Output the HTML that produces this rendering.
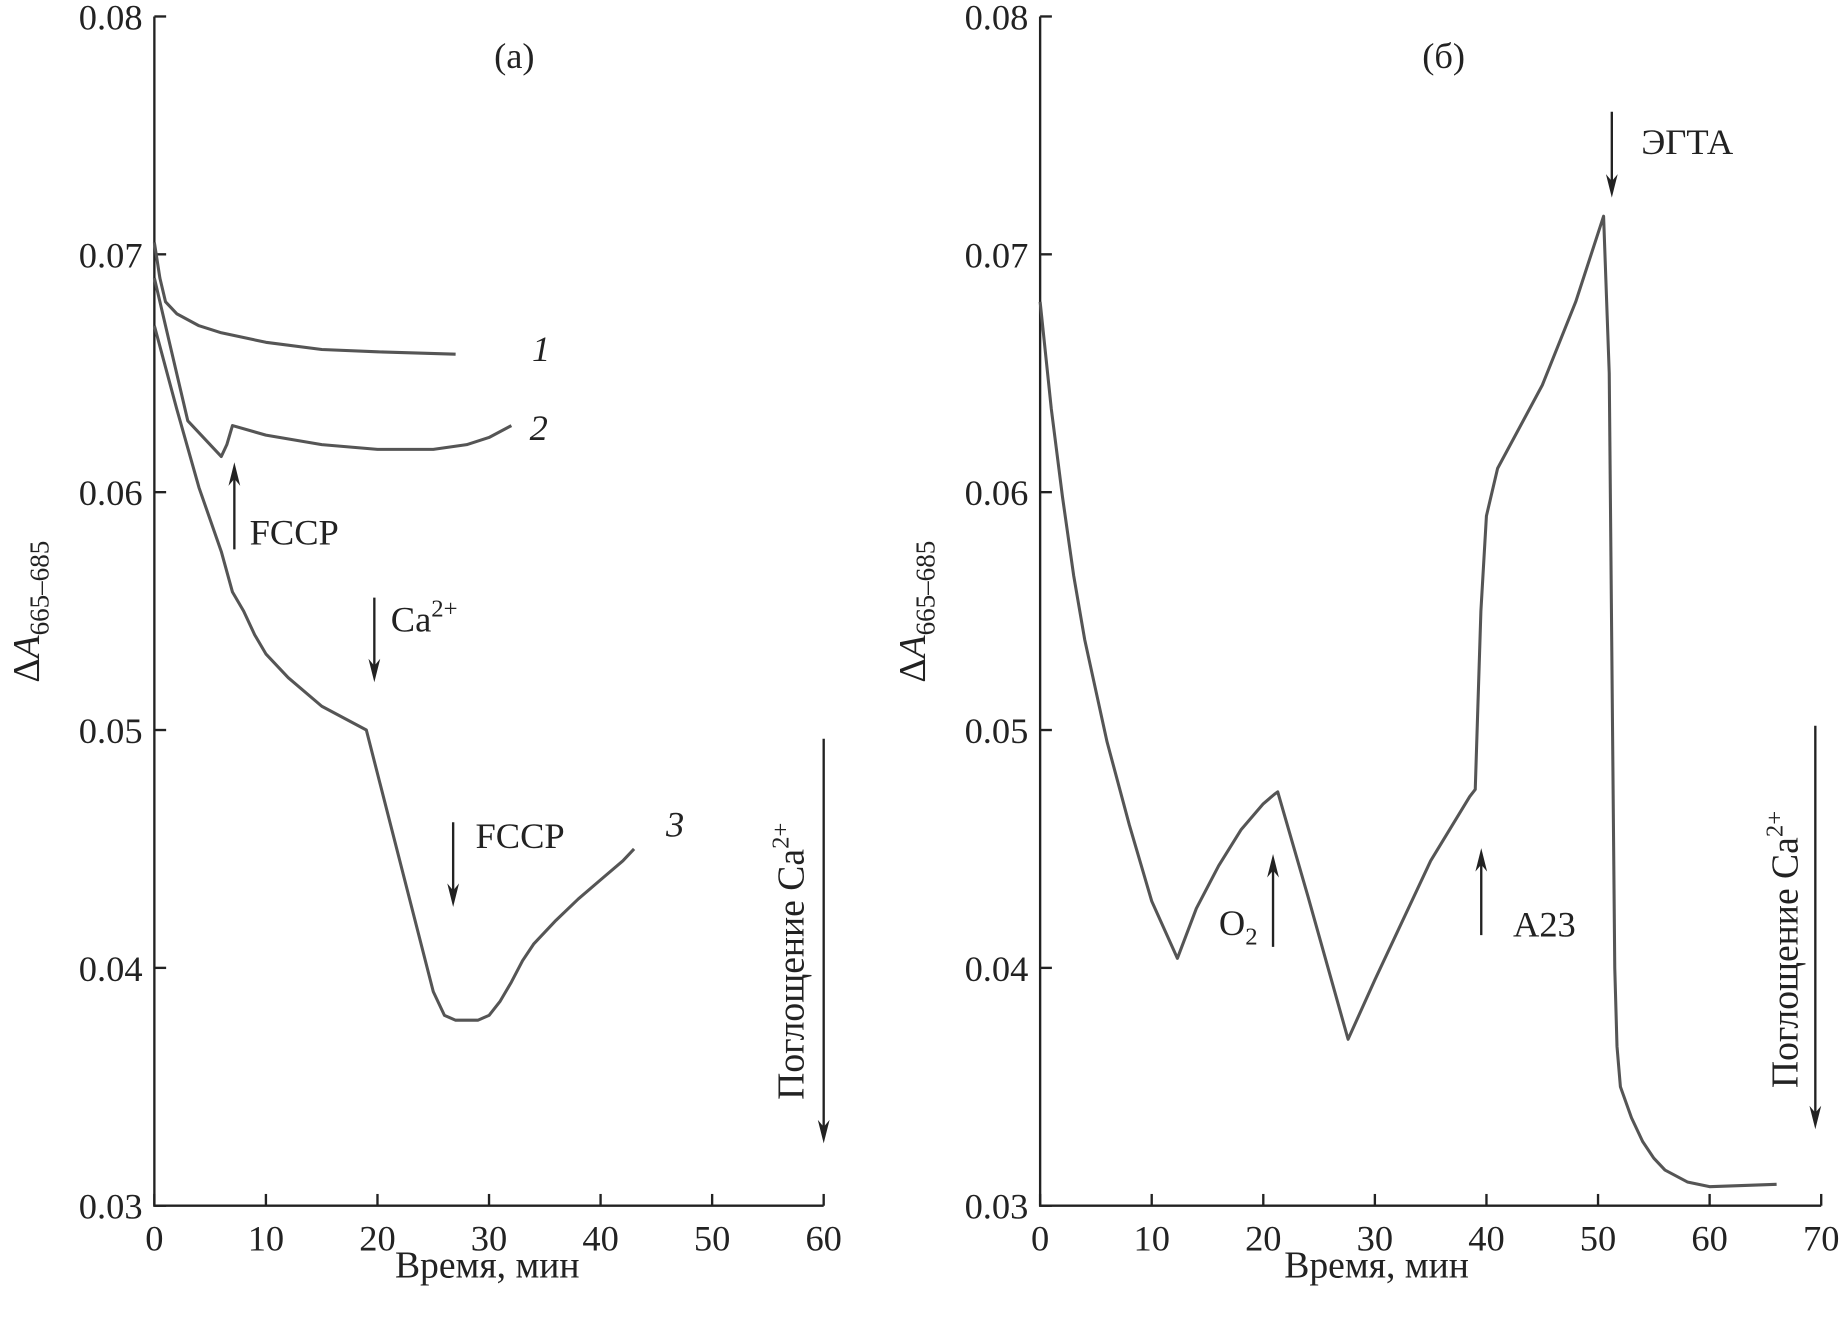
<!DOCTYPE html>
<html><head><meta charset="utf-8"><style>
html,body{margin:0;padding:0;background:#fff}
svg{display:block}
text{font-family:"Liberation Serif",serif;fill:#222}
</style></head><body>
<svg width="1845" height="1321" viewBox="0 0 1568 1123" id="chart">
<g id="pa"></g>
<g id="pb"></g>
</svg>
<script>
const curve1T=[0,0.5,1,2,4,6,10,15,20,27];
const curve1V=[0.0705,0.069,0.068,0.0675,0.067,0.0667,0.0663,0.066,0.0659,0.0658];
const curve2T=[0,3,6,6.5,7,10,15,20,25,28,30,32];
const curve2V=[0.069,0.063,0.0615,0.062,0.0628,0.0624,0.062,0.0618,0.0618,0.062,0.0623,0.0628];
const curve3T=[0,2,4,6,7,8,9,10,12,15,19,25,26,27,29,30,31,32,33,34,36,38,40,42,43];
const curve3V=[0.067,0.0635,0.0602,0.0575,0.0558,0.055,0.054,0.0532,0.0522,0.051,0.05,0.039,0.038,0.0378,0.0378,0.038,0.0386,0.0394,0.0403,0.041,0.042,0.0429,0.0437,0.0445,0.045];
const curveBT=[0,1,2,3,4,6,8,10,12.3,14,16,18,20,21,21.3,24,27.6,30,35,38.5,39,39.5,40,41,45,48,50.5,51,51.5,51.7,52,53,54,55,56,58,60,66];
const curveBV=[0.068,0.0635,0.0598,0.0565,0.0538,0.0495,0.046,0.0428,0.0404,0.0425,0.0443,0.0458,0.0469,0.0473,0.0474,0.043,0.037,0.0395,0.0445,0.0472,0.0475,0.055,0.059,0.061,0.0645,0.068,0.0716,0.065,0.04,0.0367,0.035,0.0337,0.0327,0.032,0.0315,0.031,0.0308,0.0309];
const yTicks=[0.03,0.04,0.05,0.06,0.07,0.08];
const xTicksA=[0,10,20,30,40,50,60];
const xTicksB=[0,10,20,30,40,50,60,70];
const NS="http://www.w3.org/2000/svg";
const Y0=1025,Y1=14;
function y(v){return Y0+(v-0.03)/(0.05)*(Y1-Y0);}
function mk(tag,attrs,parent){const e=document.createElementNS(NS,tag);for(const k in attrs)e.setAttribute(k,attrs[k]);parent.appendChild(e);return e;}
function panel(g,x0,xmax,xTicks,series,label,labX){
  const W=(xmax===60?569:664);
  const x=t=>x0+t/xmax*W;
  const ax=mk('path',{d:`M${x0},${Y1} V${Y0} H${x0+W}`,stroke:'#222','stroke-width':2,fill:'none'},g);
  
  
  yTicks.forEach(v=>{
    mk('line',{x1:x0,x2:x0+10,y1:y(v),y2:y(v),stroke:'#222','stroke-width':2},g);
    const t=mk('text',{x:x0-10,y:y(v)+11,'text-anchor':'end','font-size':31},g);t.textContent=v.toFixed(2);
    
    
  });
  xTicks.forEach(v=>{
    mk('line',{x1:x(v),x2:x(v),y1:Y0,y2:Y0-10,stroke:'#222','stroke-width':2},g);
    const t=mk('text',{x:x(v),y:Y0+38,'text-anchor':'middle','font-size':31},g);t.textContent=v;
    
    
  });
  const xt=mk('text',{x:x0+(xmax===60?283:286),y:1086,'text-anchor':'middle','font-size':32},g);xt.textContent='Время, мин';
  
  
  const yt=mk('text',{transform:`translate(${x0-98},520) rotate(-90)`,'text-anchor':'middle','font-size':32},g);
  yt.innerHTML='Δ<tspan font-style="italic">A</tspan><tspan font-size="23" dy="8">665–685</tspan>';
  
  
  const pl=mk('text',{x:labX,y:58,'text-anchor':'middle','font-size':31},g);pl.textContent=label;
  
  
  series.forEach(([T,V,n])=>{
    const p=mk('path',{d:T.map((t,i)=>(i?'L':'M')+x(t).toFixed(1)+','+y(V[i]).toFixed(1)).join(' '),stroke:'#555','stroke-width':2.6,fill:'none','stroke-linejoin':'round'},g);
    
    
  });
}
function arrow(g,x,y1,y2,name){
  const d=y2>y1?1:-1;
  const l=mk('line',{x1:x,y1:y1,x2:x,y2:y2-d*12,stroke:'#222','stroke-width':2},g);
  
  
  const h=mk('path',{d:`M${x-5},${y2-d*20} L${x},${y2} L${x+5},${y2-d*20} L${x},${y2-d*14} Z`,fill:'#222'},g);
  
  
}
function txt(g,x,yy,html,size,name,rot){const t=mk('text',{x:x,y:yy,'font-size':size||31},g);if(rot)t.setAttribute('transform',`rotate(-90 ${x} ${yy})`);t.innerHTML=html;}
const pa=document.getElementById('pa'),pb=document.getElementById('pb');
panel(pa,131,60,xTicksA,[[curve1T,curve1V,'curve-1'],[curve2T,curve2V,'curve-2'],[curve3T,curve3V,'curve-3']],'(а)',437);
panel(pb,884,70,xTicksB,[[curveBT,curveBV,'curve-b']],'(б)',1227);
txt(pa,452,307,'<tspan font-style="italic">1</tspan>',31,'curve-1-label');
txt(pa,450,374,'<tspan font-style="italic">2</tspan>',31,'curve-2-label');
txt(pa,566,711,'<tspan font-style="italic">3</tspan>',31,'curve-3-label');
arrow(pa,199,467,393,'fccp-arrow-up');txt(pa,212,463,'FCCP',31,'fccp-label');
arrow(pa,318,508,580,'ca-arrow');txt(pa,332,537,'Ca<tspan font-size="21" dy="-13">2+</tspan>',31,'ca-label');
arrow(pa,385,699,771,'fccp-arrow-down');txt(pa,404,721,'FCCP',31,'fccp-label-2');
arrow(pa,700,628,972,'uptake-arrow-a');txt(pa,683,935,'Поглощение Ca<tspan font-size="21" dy="-13">2+</tspan>',32,'uptake-label-a',true);
arrow(pb,1370,95,168,'egta-arrow');txt(pb,1395,131,'ЭГТА',31,'egta-label');
arrow(pb,1082,805,726,'o2-arrow');txt(pb,1036,795,'O<tspan font-size="21" dy="8">2</tspan>',31,'o2-label');
arrow(pb,1259,795,721,'a23-arrow');txt(pb,1286,796,'A23',31,'a23-label');
arrow(pb,1543,617,960,'uptake-arrow-b');txt(pb,1528,925,'Поглощение Ca<tspan font-size="21" dy="-13">2+</tspan>',32,'uptake-label-b',true);
</script>
</body></html>
